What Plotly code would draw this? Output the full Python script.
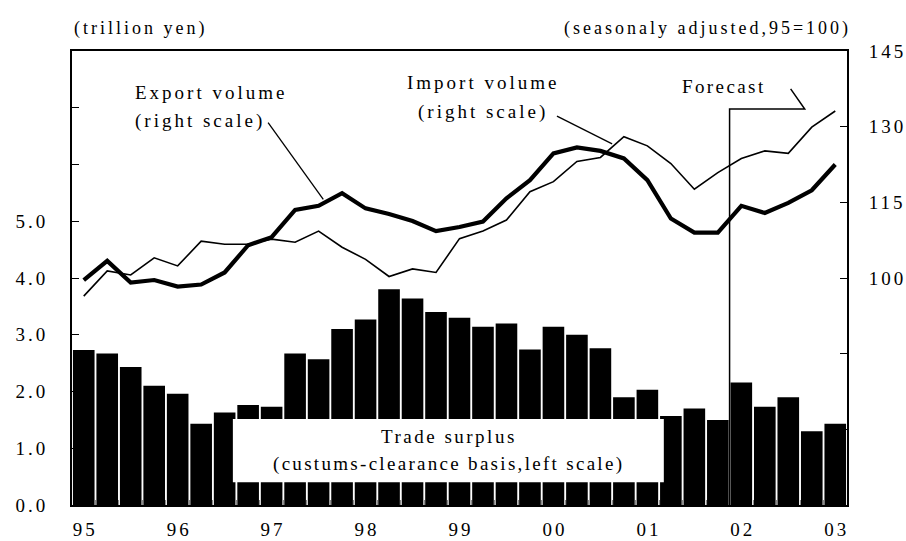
import plotly.graph_objects as go

# Quarterly periods 95Q1 .. 03Q1
quarters = list(range(33))
year_ticks = [0, 4, 8, 12, 16, 20, 24, 28, 32]
year_labels = ["95", "96", "97", "98", "99", "00", "01", "02", "03"]

# Trade surplus (trillion yen, left scale)
trade_surplus = [2.73, 2.67, 2.43, 2.10, 1.96, 1.43, 1.63, 1.76, 1.73,
                 2.67, 2.57, 3.10, 3.27, 3.80, 3.64, 3.40, 3.30, 3.14,
                 3.20, 2.74, 3.14, 3.00, 2.76, 1.90, 2.03, 1.57, 1.70,
                 1.50, 2.16, 1.73, 1.90, 1.30, 1.43]

# Export / import volume (seasonally adjusted, 95=100, right scale)
export_volume = [99.6, 103.4, 99.1, 99.6, 98.3, 98.7, 101.1, 106.5, 108.1,
                 113.5, 114.3, 116.8, 113.8, 112.7, 111.3, 109.3, 110.1, 111.2,
                 115.8, 119.4, 124.7, 125.9, 125.2, 123.7, 119.4, 111.8, 109.0,
                 109.0, 114.3, 112.9, 114.9, 117.4, 122.5]
import_volume = [96.4, 101.4, 100.6, 104.0, 102.4, 107.3, 106.7, 106.7, 107.7,
                 107.1, 109.3, 106.1, 103.7, 100.3, 101.8, 101.1, 107.8, 109.3,
                 111.5, 117.1, 119.1, 123.1, 123.9, 128.0, 126.2, 122.7, 117.6,
                 120.9, 123.7, 125.2, 124.7, 129.9, 133.1]

left_ticks = [0, 1, 2, 3, 4, 5, 6, 7, 8]
left_labels = ["0.0", "1.0", "2.0", "3.0", "4.0", "5.0", "", "", ""]
right_ticks = [55, 70, 85, 100, 115, 130, 145]
right_labels = ["", "", "", "100", "115", "130", "145"]

FONT = "Liberation Serif, Times New Roman, serif"


def spaced(s, px=2.7):
    return f"<span style='letter-spacing:{px}px'>{s}</span>" if s else ""


def spaced_tick(s, px=3):
    # spacing between glyphs only, so anchored labels keep their outer edge
    if not s:
        return ""
    return f"<span style='letter-spacing:{px}px'>{s[:-1]}</span>{s[-1]}"


fig = go.Figure()

fig.add_trace(go.Bar(
    x=quarters, y=trade_surplus, marker=dict(color="black", line=dict(width=0)),
    yaxis="y", name="Trade surplus", showlegend=False,
))
fig.add_trace(go.Scatter(
    x=quarters, y=import_volume, mode="lines", yaxis="y2",
    line=dict(color="black", width=1.6), showlegend=False,
))
fig.add_trace(go.Scatter(
    x=quarters, y=export_volume, mode="lines", yaxis="y2",
    line=dict(color="black", width=4.2), showlegend=False,
))

tick_font = dict(family=FONT, size=19, color="black")
axis_common = dict(showline=True, linecolor="black", linewidth=2,
                   ticks="inside", tickcolor="black", ticklen=7, tickwidth=1,
                   showgrid=False, zeroline=False, automargin=False,
                   tickfont=tick_font)

fig.update_layout(
    width=906, height=541,
    margin=dict(l=72, r=59, t=51, b=36, autoexpand=False),
    paper_bgcolor="white", plot_bgcolor="white",
    bargap=0.08,
    font=dict(family=FONT, color="black"),
    xaxis=dict(range=[-0.5, 32.5], tickvals=year_ticks,
               ticktext=[spaced_tick(t) for t in year_labels], ticks="",
               ticklabelstandoff=6,
               minor=dict(tickvals=[q + 0.5 for q in quarters[:-1]], ticks="inside",
                          ticklen=5, tickcolor="#8c8c8c", tickwidth=1),
               showline=True, linecolor="black", linewidth=2, mirror=True,
               showgrid=False, zeroline=False, automargin=False,
               tickfont=tick_font),
    yaxis=dict(range=[0, 8], tickvals=left_ticks,
               ticktext=[spaced_tick(t) for t in left_labels],
               ticklabelstandoff=21, **axis_common),
    yaxis2=dict(range=[55, 145], tickvals=right_ticks,
                ticktext=[spaced_tick(t) for t in right_labels],
                ticklabelstandoff=16,
                overlaying="y", side="right", **axis_common),
)

# Forecast bracket
fig.add_shape(type="path", xref="x", yref="y2",
              path="M 27.5,55 L 27.5,133.5 L 30.7,133.5 L 30.1,137.5",
              line=dict(color="black", width=1.5))

# Leader lines for the volume labels
fig.add_shape(type="line", xref="x", yref="y2", x0=7.85, y0=130.8, x1=10.2, y1=115.6,
              line=dict(color="black", width=1.3))
fig.add_shape(type="line", xref="x", yref="y2", x0=20.15, y0=132.1, x1=22.5, y1=126.6,
              line=dict(color="black", width=1.3))

# White box behind the trade surplus label
fig.add_shape(type="rect", xref="x", yref="y", x0=6.35, y0=0.4, x1=24.7, y1=1.515,
              fillcolor="white", line=dict(width=0), layer="above")

ann_font = dict(family=FONT, size=19, color="black")
fig.add_annotation(xref="x", yref="y2", x=2.1, y=136.7, xanchor="left", yanchor="middle",
                   text=spaced("Export volume", 3), showarrow=False, font=ann_font)
fig.add_annotation(xref="x", yref="y2", x=2.1, y=131.1, xanchor="left", yanchor="middle",
                   text=spaced("(right scale)", 3), showarrow=False, font=ann_font)
fig.add_annotation(xref="x", yref="y2", x=17.0, y=138.85, xanchor="center", yanchor="middle",
                   text=spaced("Import volume", 3), showarrow=False, font=ann_font)
fig.add_annotation(xref="x", yref="y2", x=17.0, y=132.9, xanchor="center", yanchor="middle",
                   text=spaced("(right scale)", 3), showarrow=False, font=ann_font)
fig.add_annotation(xref="x", yref="y2", x=27.25, y=137.9, xanchor="center", yanchor="middle",
                   text=spaced("Forecast", 2.4), showarrow=False, font=ann_font)
fig.add_annotation(xref="x", yref="y", x=15.55, y=1.2, xanchor="center", yanchor="middle",
                   text=spaced("Trade surplus", 2.5), showarrow=False, font=ann_font)
fig.add_annotation(xref="x", yref="y", x=15.55, y=0.72, xanchor="center", yanchor="middle",
                   text=spaced("(custums-clearance basis,left scale)", 2.3), showarrow=False,
                   font=ann_font)

# Unit captions above the plot
cap_font = dict(family=FONT, size=18, color="black")
fig.add_annotation(xref="paper", yref="paper", x=0.0, y=1.0, yshift=23,
                   xanchor="left", yanchor="middle", showarrow=False,
                   text=spaced("(trillion yen)", 3), font=cap_font)
fig.add_annotation(xref="paper", yref="paper", x=1.008, y=1.0, yshift=23,
                   xanchor="right", yanchor="middle", showarrow=False,
                   text=spaced("(seasonaly adjusted,95=100)", 3), font=cap_font)

fig.write_html("out.html")
